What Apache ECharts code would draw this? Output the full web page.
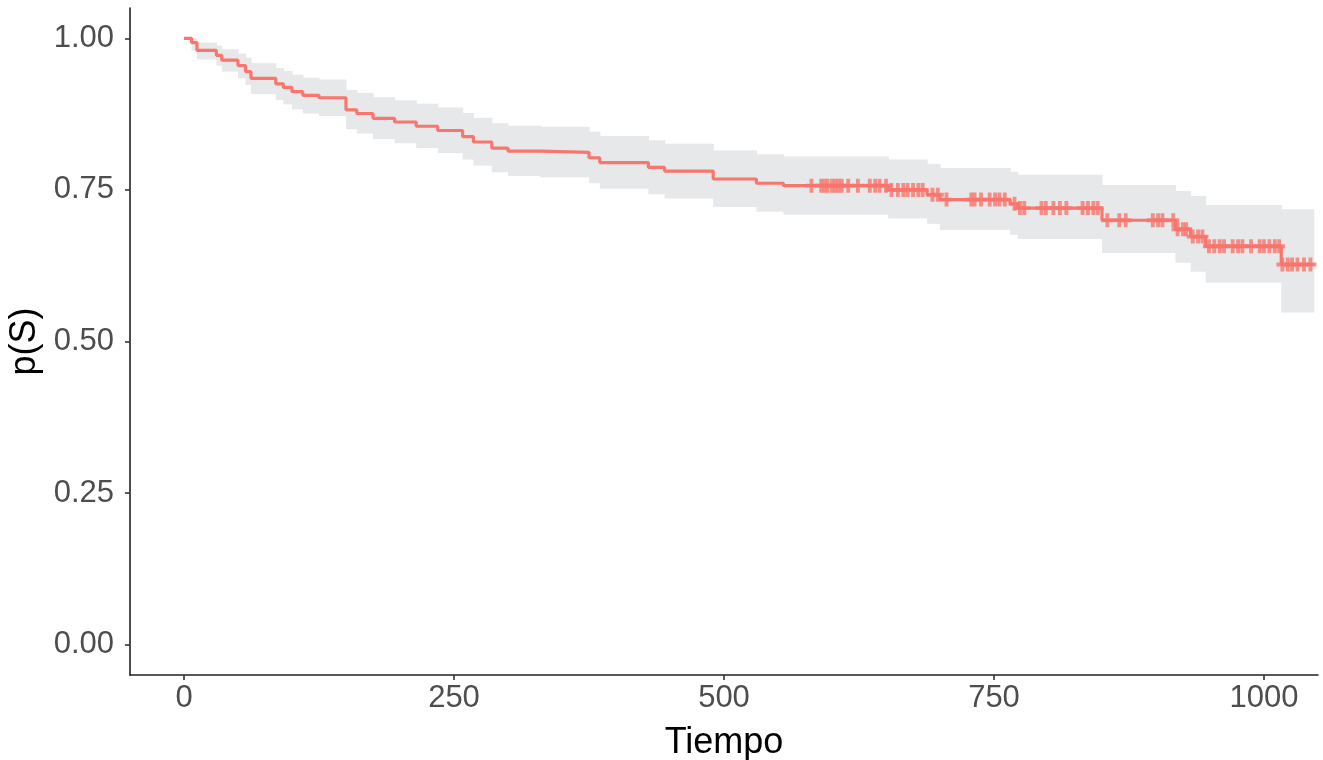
<!DOCTYPE html>
<html>
<head>
<meta charset="utf-8">
<script src="https://cdn.jsdelivr.net/npm/echarts@6/dist/echarts.min.js"></script>
<style>
  html, body { margin: 0; padding: 0; background: #ffffff; }
  #chart { width: 1323px; height: 760px; }
</style>
</head>
<body>
<div id="chart"></div>
<script>
// Kaplan-Meier step curve (time, survival)
const kmTime = [0, 7, 12, 30, 35, 50, 57, 62, 85, 92, 100, 110, 125, 150, 160, 175, 195, 215, 235, 258, 268, 285, 300, 330, 375, 385, 430, 445, 490, 530, 555, 652, 688, 700, 765, 772, 850, 918, 932, 946, 1016, 1046];
const kmSurv = [1.000, 0.993, 0.980, 0.972, 0.964, 0.955, 0.945, 0.934, 0.925, 0.919, 0.912, 0.906, 0.902, 0.882, 0.876, 0.868, 0.862, 0.855, 0.848, 0.838, 0.829, 0.819, 0.814, 0.812, 0.803, 0.795, 0.787, 0.781, 0.768, 0.761, 0.757, 0.750, 0.742, 0.734, 0.727, 0.720, 0.700, 0.685, 0.673, 0.657, 0.627, 0.627];
// Confidence band (same step times)
const ciUpper = [1.000, 1.000, 0.993, 0.988, 0.982, 0.975, 0.968, 0.959, 0.951, 0.946, 0.940, 0.935, 0.932, 0.915, 0.910, 0.903, 0.898, 0.892, 0.886, 0.877, 0.869, 0.860, 0.856, 0.854, 0.846, 0.839, 0.832, 0.826, 0.815, 0.809, 0.805, 0.800, 0.793, 0.786, 0.780, 0.775, 0.758, 0.748, 0.740, 0.725, 0.718, 0.718];
const ciLower = [1.000, 0.980, 0.965, 0.955, 0.945, 0.934, 0.923, 0.908, 0.898, 0.891, 0.883, 0.876, 0.872, 0.850, 0.843, 0.834, 0.827, 0.819, 0.811, 0.800, 0.790, 0.779, 0.773, 0.771, 0.761, 0.752, 0.743, 0.736, 0.722, 0.714, 0.709, 0.703, 0.694, 0.684, 0.676, 0.669, 0.646, 0.630, 0.615, 0.597, 0.548, 0.548];
// Censoring times ("+" marks)
const censorTimes = [581, 590, 593, 596, 600, 603, 606, 609, 615, 624, 635, 640, 644, 650, 655, 661,
  666, 670, 675, 680, 684, 693, 698, 706, 729, 732, 738, 746, 751, 755, 760, 769, 774, 778,
  794, 798, 805, 811, 817, 832, 837, 842, 846, 855, 866, 872, 897, 902, 906, 916, 920, 925, 928,
  934, 939, 943, 949, 954, 959, 963, 971, 976, 980, 988, 996, 1000, 1005, 1010, 1014,
  1017, 1022, 1026, 1031, 1037, 1043];
// Axis ticks
const xTicks = [0, 250, 500, 750, 1000];
const yTicks = [0, 0.25, 0.5, 0.75, 1.0];

const lineColor = '#F8766D';
const bandColor = '#e7e8ea';

function survAt(t) {
  let v = kmSurv[0];
  for (let i = 0; i < kmTime.length; i++) { if (kmTime[i] <= t) v = kmSurv[i]; }
  return v;
}

const bandData = [];
for (let i = 0; i < kmTime.length - 1; i++) {
  bandData.push([kmTime[i], kmTime[i + 1], ciLower[i], ciUpper[i]]);
}

const chart = echarts.init(document.getElementById('chart'), null, { renderer: 'canvas' });
const axisFont = 'Liberation Sans, Arial, Helvetica, sans-serif';
chart.setOption({
  animation: false,
  backgroundColor: '#ffffff',
  grid: { left: 130, right: 5, top: 8, bottom: 85, containLabel: false, outerBoundsMode: 'none' },
  xAxis: {
    type: 'value', min: -50, max: 1050,
    name: 'Tiempo', nameLocation: 'middle', nameGap: 50,
    nameTextStyle: { fontSize: 36, color: '#000000', fontFamily: axisFont },
    axisLine: { show: true, onZero: false, lineStyle: { color: '#222222', width: 1.6 } },
    axisTick: { show: true, length: 5, lineStyle: { color: '#333333', width: 1.6 }, customValues: xTicks },
    axisLabel: { customValues: xTicks, fontSize: 31, color: '#4d4d4d', margin: 8, fontFamily: axisFont,
      formatter: v => String(v) },
    splitLine: { show: false }
  },
  yAxis: {
    type: 'value', min: -0.05, max: 1.05,
    name: 'p(S)', nameLocation: 'middle', nameGap: 82, nameRotate: 90,
    nameTextStyle: { fontSize: 36, color: '#000000', fontFamily: axisFont },
    axisLine: { show: true, onZero: false, lineStyle: { color: '#222222', width: 1.6 } },
    axisTick: { show: true, length: 5, lineStyle: { color: '#333333', width: 1.6 }, customValues: yTicks },
    axisLabel: { customValues: yTicks, fontSize: 31, color: '#4d4d4d', margin: 16, fontFamily: axisFont,
      formatter: v => Number(v).toFixed(2) },
    splitLine: { show: false }
  },
  series: [
    {
      type: 'custom',
      data: bandData,
      encode: { x: [0, 1], y: [2, 3] },
      clip: true,
      z: 1,
      renderItem: function (params, api) {
        const p0 = api.coord([api.value(0), api.value(3)]);
        const p1 = api.coord([api.value(1), api.value(2)]);
        return {
          type: 'rect',
          shape: { x: p0[0], y: p0[1], width: p1[0] - p0[0] + 0.6, height: p1[1] - p0[1] },
          style: { fill: bandColor }
        };
      }
    },
    {
      type: 'line',
      step: 'end',
      data: kmTime.map((t, i) => [t, kmSurv[i]]),
      symbol: 'none',
      lineStyle: { color: lineColor, width: 3.2 },
      z: 3
    },
    {
      type: 'scatter',
      data: censorTimes.map(t => [t, survAt(t)]),
      symbol: 'path://M3.4,0 L6.6,0 L6.6,3.6 L10,3.6 L10,6.4 L6.6,6.4 L6.6,10 L3.4,10 L3.4,6.4 L0,6.4 L0,3.6 L3.4,3.6 Z',
      symbolSize: [12, 14],
      itemStyle: { color: lineColor },
      z: 4
    }
  ]
});
</script>
</body>
</html>
